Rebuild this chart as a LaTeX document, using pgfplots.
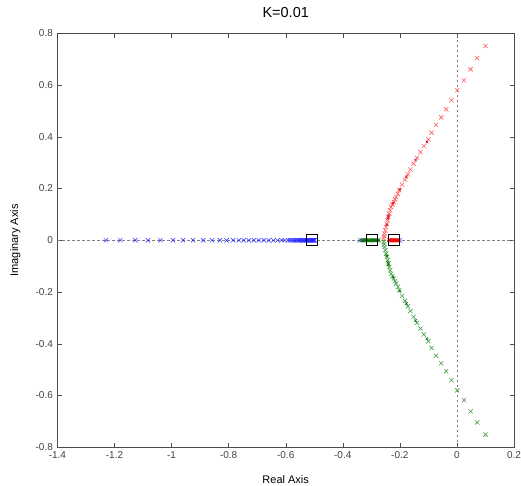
\documentclass[border=0pt]{standalone}
\usepackage{fontspec}
\setmainfont{Liberation Sans}
\usepackage{pgfplots}
\pgfplotsset{compat=1.18}
\definecolor{mred}{RGB}{255,90,90}
\definecolor{mgreen}{RGB}{70,160,70}
\definecolor{dgreen}{RGB}{0,110,0}
\definecolor{mblue}{RGB}{40,40,255}
\begin{document}
\begin{tikzpicture}
\begin{axis}[
  scale only axis,
  width=456.6pt, height=414pt,
  xmin=-1.4, xmax=0.2, ymin=-0.8, ymax=0.8,
  xtick={-1.4,-1.2,-1,-0.8,-0.6,-0.4,-0.2,0,0.2},
  ytick={-0.8,-0.6,-0.4,-0.2,0,0.2,0.4,0.6,0.8},
  /pgf/number format/assume math mode=true,
  tick label style={font=\fontsize{10}{12}\selectfont, text=black!75},
  tick align=inside, major tick length=4.5pt,
  axis line style={black!70},
  every tick/.style={black!70},
  xticklabel style={yshift=-1pt},
  yticklabel style={xshift=-1pt},
  title={K=0.01},
  title style={font=\fontsize{14.5}{16}\selectfont, at={(0.5,1)}, anchor=south, yshift=6pt},
  xlabel={Real Axis},
  ylabel={Imaginary Axis},
  label style={font=\fontsize{11}{13}\selectfont},
  xlabel style={at={(axis description cs:0.5,-0.077)}, anchor=center},
  ylabel style={at={(axis description cs:-0.092,0.5)}, anchor=center},
  clip=false,
]
% dashed reference lines
\addplot[black!50, dash pattern=on 2.5pt off 2.5pt, line width=0.6pt] coordinates {(-1.4,0) (0.2,0)};
\addplot[black!50, dash pattern=on 2.5pt off 2.5pt, line width=0.6pt] coordinates {(0,-0.8) (0,0.8)};
% blue branch
\addplot[only marks, mark=x, mark size=3pt, mblue, mark options={line width=0.5pt}] coordinates {
(-1.23,0) (-1.18,0) (-1.127,0) (-1.083,0) (-1.039,0) (-0.995,0) (-0.96,0) (-0.925,0)
(-0.889,0) (-0.858,0) (-0.831,0) (-0.807,0) (-0.784,0) (-0.764,0) (-0.747,0) (-0.729,0)
(-0.711,0) (-0.694,0) (-0.676,0) (-0.659,0) (-0.643,0) (-0.629,0) (-0.615,0) (-0.603,0)
(-0.592,0) (-0.584,0) (-0.577,0) (-0.571,0) (-0.565,0) (-0.56,0) (-0.555,0) (-0.55,0)
(-0.546,0) (-0.542,0) (-0.538,0) (-0.534,0) (-0.53,0) (-0.527,0) (-0.524,0) (-0.521,0)
(-0.518,0) (-0.515,0) (-0.512,0) (-0.51,0) (-0.508,0) (-0.506,0) (-0.504,0) (-0.502,0)
(-0.5,0) (-0.498,0)
(-0.34,0) (-0.2,0)
};
% green dense
\addplot[only marks, mark=x, mark size=2.6pt, dgreen, mark options={line width=0.5pt}] coordinates {
(-0.334,0) (-0.33,0) (-0.326,0) (-0.322,0) (-0.318,0) (-0.314,0) (-0.31,0) (-0.306,0)
(-0.302,0) (-0.298,0) (-0.294,0) (-0.29,0) (-0.286,0) (-0.282,0) (-0.278,0) (-0.274,0)
};
% red dense
\addplot[only marks, mark=x, mark size=2.6pt, red, mark options={line width=0.5pt}] coordinates {
(-0.238,0) (-0.235,0) (-0.232,0) (-0.229,0) (-0.226,0) (-0.223,0) (-0.22,0) (-0.217,0)
(-0.214,0) (-0.211,0) (-0.208,0) (-0.205,0)
};
% red branch (upper)
\addplot[only marks, mark=x, mark size=3pt, mred, mark options={line width=0.6pt}] coordinates {
(0.1,0.751) (0.071,0.704) (0.048,0.661) (0.0245,0.618) (0.001,0.58) (-0.019,0.541)
(-0.0376,0.506) (-0.055,0.475) (-0.073,0.446) (-0.089,0.416) (-0.1,0.39) (-0.116,0.364)
(-0.128,0.341) (-0.14,0.319) (-0.152,0.296) (-0.163,0.273) (-0.172,0.255) (-0.182,0.234)
(-0.192,0.215) (-0.202,0.193) (-0.213,0.167) (-0.221,0.148) (-0.231,0.129) (-0.237,0.103)
(-0.243,0.077) (-0.248,0.051) (-0.254,0.026) (-0.257,0.007)
(-0.207,0.18) (-0.217,0.158) (-0.226,0.138) (-0.234,0.116) (-0.24,0.09) (-0.245,0.064) (-0.251,0.038) (-0.255,0.016)
};
\addplot[only marks, mark=x, mark size=1.8pt, red!85!black, mark options={line width=0.5pt}] coordinates {
(-0.105,0.38) (-0.145,0.31) (-0.177,0.245) (-0.2,0.197) (-0.224,0.143) (-0.24,0.095) (-0.242,0.085) (-0.246,0.06)
};
% green branch (lower)
\addplot[only marks, mark=x, mark size=3pt, mgreen, mark options={line width=0.6pt}] coordinates {
(0.1,-0.751) (0.071,-0.704) (0.048,-0.661) (0.0245,-0.618) (0.001,-0.58) (-0.019,-0.541)
(-0.0376,-0.506) (-0.055,-0.475) (-0.073,-0.446) (-0.089,-0.416) (-0.1,-0.39) (-0.116,-0.364)
(-0.128,-0.341) (-0.14,-0.319) (-0.152,-0.296) (-0.163,-0.273) (-0.172,-0.255) (-0.182,-0.234)
(-0.192,-0.215) (-0.202,-0.193) (-0.213,-0.167) (-0.221,-0.148) (-0.231,-0.129) (-0.237,-0.103)
(-0.243,-0.077) (-0.248,-0.051) (-0.254,-0.026) (-0.257,-0.007)
(-0.207,-0.18) (-0.217,-0.158) (-0.226,-0.138) (-0.234,-0.116) (-0.24,-0.09) (-0.245,-0.064) (-0.251,-0.038) (-0.255,-0.016)
};
\addplot[only marks, mark=x, mark size=1.8pt, dgreen, mark options={line width=0.5pt}] coordinates {
(-0.105,-0.38) (-0.145,-0.31) (-0.177,-0.245) (-0.2,-0.197) (-0.224,-0.143) (-0.24,-0.095) (-0.242,-0.085) (-0.246,-0.06)
};
% squares
\addplot[only marks, mark=square, mark size=5.5pt, black, mark options={line width=0.6pt}] coordinates {
(-0.509,0) (-0.3,0) (-0.221,0)
};
\end{axis}
\pgfresetboundingbox
\path ([shift={(-57.4pt,-38.7pt)}]current axis.south west) rectangle ([shift={(7pt,33.3pt)}]current axis.north east);
\end{tikzpicture}
\end{document}
